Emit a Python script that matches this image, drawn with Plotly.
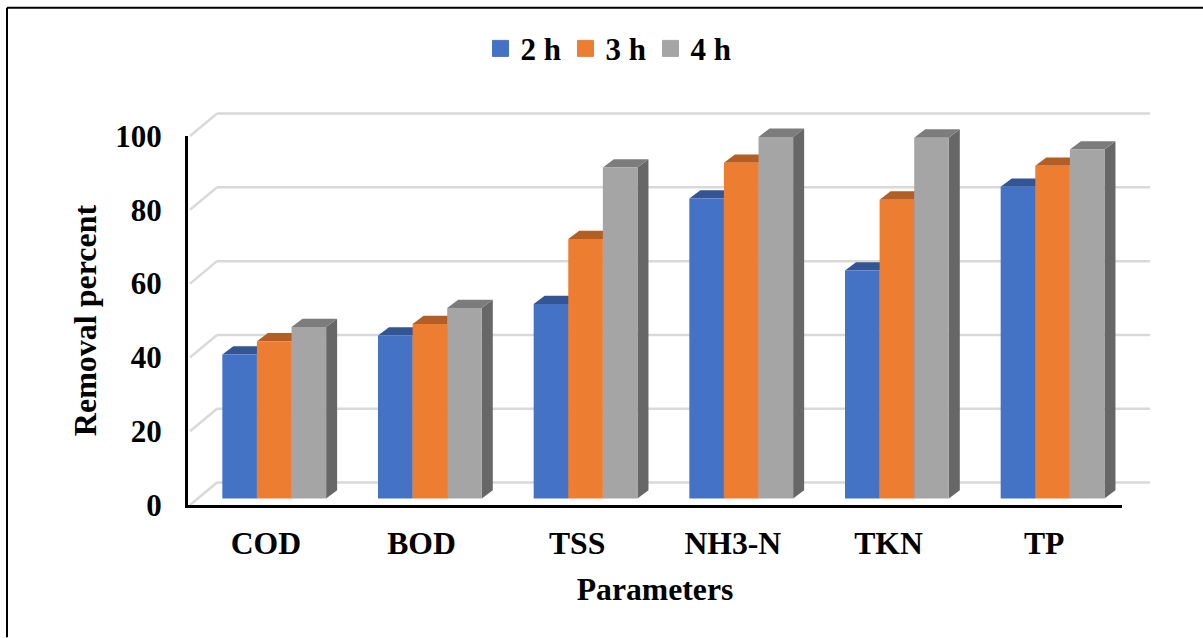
import plotly.graph_objects as go

categories = ["COD", "BOD", "TSS", "NH3-N", "TKN", "TP"]
series_names = ["2 h", "3 h", "4 h"]
values_2h = [39.0, 44.2, 52.7, 81.3, 61.8, 84.5]
values_3h = [42.6, 47.3, 70.3, 91.0, 81.0, 90.2]
values_4h = [46.5, 51.6, 89.7, 98.0, 97.8, 94.6]
y_ticks = [0, 20, 40, 60, 80, 100]
front_colors = ["#4472C4", "#ED7D31", "#A5A5A5"]
top_colors = ["#335593", "#B25E25", "#7C7C7C"]
side_colors = ["#29447A", "#8E4B1D", "#676767"]

FONT = "Liberation Serif"
W, H = 1203, 638
L, R, T, B = 188, 1122, 135.5, 505.5
PX_X = (R - L) / 6
PX_Y = (B - T) / 100
X_MIN, X_MAX, Y_MIN, Y_MAX = -0.5, 5.5, 0, 100

BAR_W = 34.6 / PX_X
SHIFT = 8.4 / PX_X
BASE = 6.5 / PX_Y
DX = 11 / PX_X
DY = 8.3 / PX_Y
WALL_DX = 29 / PX_X
WALL_DY = 22.5 / PX_Y


def fx(x):
    """Data x to plot-area fraction; paper-referenced shapes are not clipped."""
    return (x - X_MIN) / (X_MAX - X_MIN)


def fy(y):
    return (y - Y_MIN) / (Y_MAX - Y_MIN)


def poly(points):
    return "M" + " L".join(f"{fx(x)},{fy(y)}" for x, y in points) + " Z"


all_values = [values_2h, values_3h, values_4h]
fig = go.Figure()
shapes = []

# back wall gridlines and the diagonal side lines
right_end = (1150 - L) / PX_X - 0.5
for t in y_ticks:
    for x0, y0, x1, y1 in [(X_MIN + 2 / PX_X, t, X_MIN + WALL_DX, t + WALL_DY),
                           (X_MIN + WALL_DX, t + WALL_DY, right_end, t + WALL_DY)]:
        shapes.append(dict(type="line", xref="paper", yref="paper",
                           x0=fx(x0), y0=fy(y0), x1=fx(x1), y1=fy(y1),
                           line=dict(color="#D9D9D9", width=2.5), layer="below"))

for s, vals in enumerate(all_values):
    offset = SHIFT + (s - 1) * BAR_W
    xs = [i + offset for i in range(len(categories))]
    fig.add_trace(go.Bar(x=xs, y=vals, base=BASE, width=BAR_W, name=series_names[s],
                         marker=dict(color=front_colors[s], line=dict(width=0)),
                         showlegend=False, cliponaxis=False))
    for x, v in zip(xs, vals):
        xl, xr = x - BAR_W / 2, x + BAR_W / 2
        top = BASE + v
        top_path = poly([(xl, top), (xr, top), (xr + DX, top + DY), (xl + DX, top + DY)])
        side_path = poly([(xr, BASE), (xr + DX, BASE + DY), (xr + DX, top + DY), (xr, top)])
        shapes.append(dict(type="path", xref="paper", yref="paper", path=side_path,
                           fillcolor=side_colors[s], line=dict(width=0), layer="below"))
        shapes.append(dict(type="path", xref="paper", yref="paper", path=top_path,
                           fillcolor=top_colors[s], line=dict(width=0), layer="below"))
    # legend entry with the larger square swatch
    fig.add_trace(go.Scatter(x=[None], y=[None], mode="markers", name=series_names[s],
                             marker=dict(symbol="square", size=16, color=front_colors[s],
                                         line=dict(color=front_colors[s], width=1))))

# picture frame: top and left edges only
frame_x0, frame_x1 = (7 - L) / (R - L), (W - L) / (R - L)
frame_top, frame_bot = (B - 7) / (B - T), (B - H) / (B - T)
shapes.append(dict(type="line", xref="paper", yref="paper", x0=frame_x0, x1=frame_x1,
                   y0=frame_top, y1=frame_top, line=dict(color="black", width=2)))
shapes.append(dict(type="line", xref="paper", yref="paper", x0=frame_x0, x1=frame_x0,
                   y0=frame_top, y1=frame_bot, line=dict(color="black", width=2)))

fig.update_layout(
    width=W, height=H, autosize=False,
    margin=dict(l=L, r=W - R, t=T, b=H - B, pad=0, autoexpand=False),
    paper_bgcolor="white", plot_bgcolor="rgba(0,0,0,0)",
    barmode="overlay", shapes=shapes,
    font=dict(family=FONT, color="black"),
    legend=dict(orientation="h", x=(608 - L) / (R - L), xanchor="center",
                y=(B - 48) / (B - T), yanchor="middle",
                font=dict(family=FONT, size=31, weight="bold", color="black"),
                entrywidth=40, entrywidthmode="pixels", itemclick=False, itemdoubleclick=False,
                bgcolor="rgba(0,0,0,0)"),
    xaxis=dict(range=[X_MIN, X_MAX], tickmode="array", tickvals=list(range(len(categories))),
               ticktext=categories, showgrid=False, zeroline=False, showline=True,
               linecolor="black", linewidth=3, ticks="", ticklabelstandoff=8,
               tickfont=dict(family=FONT, size=31.7, weight="bold", color="black"),
               title=dict(text="Parameters", standoff=18,
                          font=dict(family=FONT, size=31.7, weight="bold", color="black"))),
    yaxis=dict(range=[Y_MIN, Y_MAX], tickmode="array", tickvals=y_ticks, showgrid=False,
               zeroline=False, showline=True, linecolor="black", linewidth=3, ticks="",
               ticklabelstandoff=17,
               tickfont=dict(family=FONT, size=31, weight="bold", color="black"),
               title=dict(text="Removal percent", standoff=10,
                          font=dict(family=FONT, size=32, weight="bold", color="black"))),
)

fig.write_html("out.html", config=dict(displayModeBar=False),
               post_script="document.body.style.margin='0';")
